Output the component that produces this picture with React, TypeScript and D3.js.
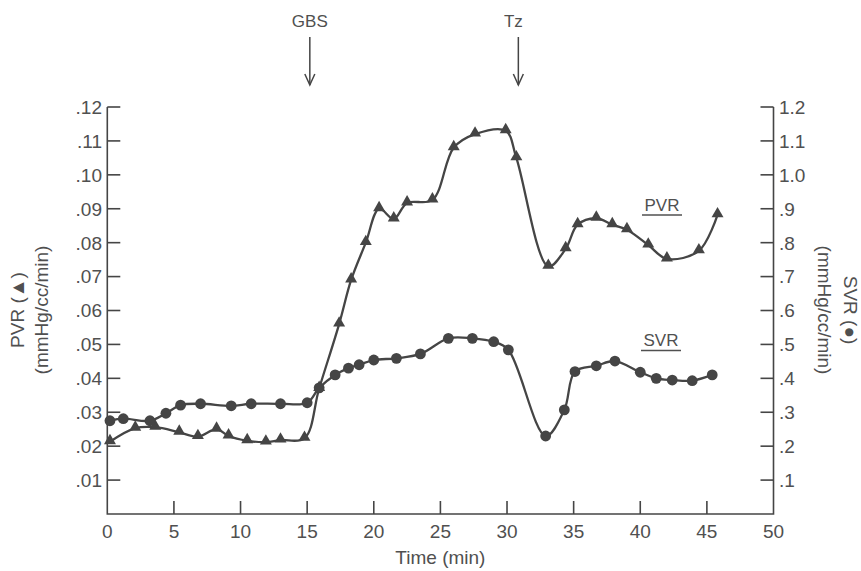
import React from "react";
import * as d3 from "d3";

const pvrTime = [0.2, 2.1, 3.6, 5.4, 6.8, 8.2, 9.1, 10.5, 11.9, 13.0, 14.8, 15.9, 17.4, 18.3, 19.4, 20.4, 21.5, 22.5, 24.4, 26.0, 27.6, 29.9, 30.7, 33.1, 34.4, 35.3, 36.7, 37.9, 39.0, 40.6, 42.0, 44.4, 45.8];
const pvrValue = [0.0213, 0.0253, 0.0256, 0.0241, 0.0228, 0.025, 0.023, 0.0216, 0.0212, 0.0218, 0.0223, 0.037, 0.056, 0.069, 0.08, 0.09, 0.087, 0.0917, 0.0926, 0.108, 0.112, 0.113, 0.105, 0.073, 0.0782, 0.0853, 0.0872, 0.0853, 0.0838, 0.0793, 0.0752, 0.0776, 0.0882];

const svrTime = [0.2, 1.2, 3.2, 4.4, 5.5, 7.0, 9.3, 10.8, 13.0, 15.0, 15.9, 17.1, 18.1, 18.9, 20.0, 21.7, 23.5, 25.6, 27.4, 29.0, 30.1, 32.9, 34.3, 35.1, 36.7, 38.1, 40.0, 41.2, 42.4, 43.9, 45.4];
const svrValue = [0.275, 0.281, 0.275, 0.297, 0.321, 0.325, 0.319, 0.325, 0.325, 0.328, 0.372, 0.41, 0.43, 0.44, 0.454, 0.459, 0.472, 0.518, 0.518, 0.508, 0.484, 0.23, 0.307, 0.42, 0.437, 0.451, 0.418, 0.4, 0.395, 0.393, 0.41];

const xTicks = [0, 5, 10, 15, 20, 25, 30, 35, 40, 45, 50];
const leftTicks = [0.01, 0.02, 0.03, 0.04, 0.05, 0.06, 0.07, 0.08, 0.09, 0.1, 0.11, 0.12];
const leftTickLabels = [".01", ".02", ".03", ".04", ".05", ".06", ".07", ".08", ".09", ".10", ".11", ".12"];
const rightTicks = [0.1, 0.2, 0.3, 0.4, 0.5, 0.6, 0.7, 0.8, 0.9, 1.0, 1.1, 1.2];
const rightTickLabels = [".1", ".2", ".3", ".4", ".5", ".6", ".7", ".8", ".9", "1.0", "1.1", "1.2"];

const events = [
  { label: "GBS", time: 15.2, dx: 0 },
  { label: "Tz", time: 30.85, dx: -5 },
];

const W = 861;
const H = 571;
const X0 = 107.3;
const X1 = 773.5;
const Y0 = 514;
const Y1 = 107;

const INK = "#454545";
const TEXT = "#505050";
const FONT = "'Liberation Sans', Arial, sans-serif";
const FS = 19;

export default function App() {
  const x = d3.scaleLinear().domain([0, 50]).range([X0, X1]);
  const yL = d3.scaleLinear().domain([0, 0.12]).range([Y0, Y1]);
  const yR = d3.scaleLinear().domain([0, 1.2]).range([Y0, Y1]);

  const pvr = pvrTime.map((t, i) => [t, pvrValue[i]] as [number, number]);
  const svr = svrTime.map((t, i) => [t, svrValue[i]] as [number, number]);

  const lineL = d3
    .line<[number, number]>()
    .x((d) => x(d[0]))
    .y((d) => yL(d[1]))
    .curve(d3.curveCatmullRom.alpha(0.5));
  const lineR = d3
    .line<[number, number]>()
    .x((d) => x(d[0]))
    .y((d) => yR(d[1]))
    .curve(d3.curveCatmullRom.alpha(0.5));

  const tri = d3.symbol().type(d3.symbolTriangle).size(62)() as string;
  const tick = 13;

  return (
    <svg
      width={W}
      height={H}
      style={{ position: "absolute", left: 0, top: 0, background: "#fff" }}
      fontFamily={FONT}
    >
      <path
        d={`M${X0},${Y1}V${Y0}H${X1}V${Y1}`}
        fill="none"
        stroke={INK}
        strokeWidth={1.6}
      />
      {xTicks.map((t) => (
        <g key={"x" + t}>
          {t > 0 && t < 50 && (
            <line x1={x(t)} x2={x(t)} y1={Y0} y2={Y0 - tick} stroke={INK} strokeWidth={1.6} />
          )}
          <text x={x(t)} y={538} textAnchor="middle" fontSize={FS} fill={TEXT}>
            {t}
          </text>
        </g>
      ))}
      {leftTicks.map((v, i) => (
        <g key={"l" + i}>
          <line x1={X0} x2={X0 + tick} y1={yL(v)} y2={yL(v)} stroke={INK} strokeWidth={1.6} />
          <text x={102} y={yL(v)} dy="0.36em" textAnchor="end" fontSize={FS} fill={TEXT}>
            {leftTickLabels[i]}
          </text>
        </g>
      ))}
      {rightTicks.map((v, i) => (
        <g key={"r" + i}>
          <line x1={X1} x2={X1 - tick} y1={yR(v)} y2={yR(v)} stroke={INK} strokeWidth={1.6} />
          <text x={779} y={yR(v)} dy="0.36em" textAnchor="start" fontSize={FS} fill={TEXT}>
            {rightTickLabels[i]}
          </text>
        </g>
      ))}

      <text transform={`translate(24,310) rotate(-90)`} textAnchor="middle" fontSize={FS} fill={TEXT}>
        PVR (▲)
      </text>
      <text transform={`translate(48,310) rotate(-90)`} textAnchor="middle" fontSize={FS} fill={TEXT}>
        (mmHg/cc/min)
      </text>
      <text transform={`translate(844,310) rotate(90)`} textAnchor="middle" fontSize={FS} fill={TEXT}>
        SVR (●)
      </text>
      <text transform={`translate(818,310) rotate(90)`} textAnchor="middle" fontSize={FS} fill={TEXT}>
        (mmHg/cc/min)
      </text>
      <text x={(X0 + X1) / 2} y={564} textAnchor="middle" fontSize={FS} fill={TEXT}>
        Time (min)
      </text>

      {events.map((e) => {
        const ex = x(e.time);
        return (
          <g key={e.label}>
            <text x={ex + e.dx} y={27} textAnchor="middle" fontSize={17} fill={TEXT}>
              {e.label}
            </text>
            <line x1={ex} x2={ex} y1={37} y2={85} stroke={INK} strokeWidth={1.5} />
            <path
              d={`M${ex - 5},${74}L${ex},${85}L${ex + 5},${74}`}
              fill="none"
              stroke={INK}
              strokeWidth={1.5}
            />
          </g>
        );
      })}

      <path d={lineL(pvr) ?? ""} fill="none" stroke={INK} strokeWidth={2.3} />
      <path d={lineR(svr) ?? ""} fill="none" stroke={INK} strokeWidth={2.3} />
      {pvr.map((d, i) => (
        <path key={"pt" + i} d={tri} transform={`translate(${x(d[0])},${yL(d[1]) - 1})`} fill={INK} />
      ))}
      {svr.map((d, i) => (
        <circle key={"sc" + i} cx={x(d[0])} cy={yR(d[1])} r={5.4} fill={INK} />
      ))}

      <text x={662} y={211} textAnchor="middle" fontSize={17} fill={TEXT}>
        PVR
      </text>
      <line x1={642} x2={682} y1={215} y2={215} stroke={TEXT} strokeWidth={1.3} />
      <text x={661} y={346} textAnchor="middle" fontSize={17} fill={TEXT}>
        SVR
      </text>
      <line x1={641} x2={681} y1={350.5} y2={350.5} stroke={TEXT} strokeWidth={1.3} />
    </svg>
  );
}
